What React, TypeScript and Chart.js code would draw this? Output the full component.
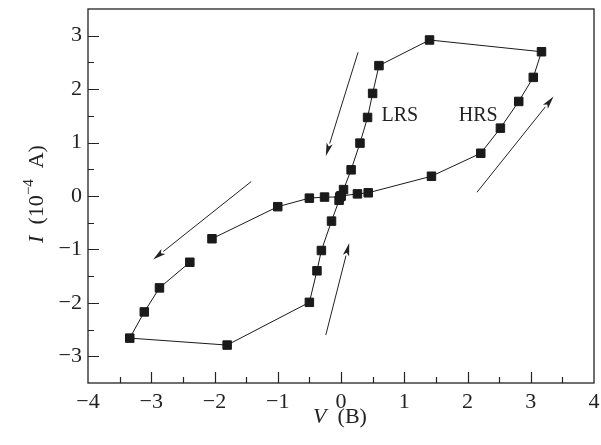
import React, { useEffect, useRef } from "react";
import { Chart, registerables } from "chart.js";
Chart.register(...registerables);

// I–V sweep (V in volts, I in 1e-4 A); null = gap in the curve
const voltage: (number | null)[] = [
  0, 0.26, 0.43, 1.43, 2.21, 2.52, 2.81, 3.04, 3.17,
  1.40, 0.60, 0.50, 0.42, 0.30, 0.16, 0.04,
  -0.02, -0.26, -0.50, -1.00, -2.04, null,
  -2.39, -2.87, -3.11, -3.34, -1.80, -0.50, -0.38, -0.31, -0.15, -0.03, 0,
];
const current: (number | null)[] = [
  0, 0.04, 0.06, 0.37, 0.80, 1.27, 1.77, 2.22, 2.70,
  2.92, 2.44, 1.92, 1.47, 0.99, 0.49, 0.12,
  -0.02, -0.02, -0.04, -0.20, -0.80, null,
  -1.24, -1.72, -2.17, -2.66, -2.79, -1.99, -1.40, -1.02, -0.47, -0.08, 0,
];

const xTicks = [-4, -3, -2, -1, 0, 1, 2, 3, 4];
const yTicks = [-3, -2, -1, 0, 1, 2, 3];

// sweep-direction arrows: tail (V, I) -> head (V, I)
const arrowTailV = [0.27, 2.15, -1.42, -0.24];
const arrowTailI = [2.69, 0.07, 0.27, -2.6];
const arrowHeadV = [-0.24, 3.36, -2.97, 0.13];
const arrowHeadI = [0.75, 1.86, -1.19, -0.88];

const stateLabels = ["LRS", "HRS"];
const stateLabelV = [0.93, 2.17];
const stateLabelI = [1.5, 1.5];

const SERIF = "'Liberation Serif', 'Times New Roman', serif";
const fmt = (v: number) => (v < 0 ? "\u2212" + Math.abs(v) : String(v));

const decor = {
  id: "decor",
  afterDatasetsDraw(chart: any) {
    const { ctx, chartArea: a, scales } = chart;
    const x = scales.x, y = scales.y;
    ctx.save();
    ctx.strokeStyle = "#222";
    ctx.fillStyle = "#222";
    ctx.lineWidth = 1.3;
    ctx.strokeRect(a.left, a.top, a.right - a.left, a.bottom - a.top);
    ctx.lineWidth = 1.2;
    ctx.beginPath();
    for (let k = -7; k <= 7; k++) {
      const v = k / 2;
      const px = Math.round(x.getPixelForValue(v)) + 0.5;
      const len = k % 2 === 0 ? 11 : 6;
      ctx.moveTo(px, a.bottom);
      ctx.lineTo(px, a.bottom - len);
    }
    for (let k = -6; k <= 6; k++) {
      const v = k / 2;
      const py = Math.round(y.getPixelForValue(v)) + 0.5;
      const len = k % 2 === 0 ? 11 : 6;
      ctx.moveTo(a.left, py);
      ctx.lineTo(a.left + len, py);
    }
    ctx.stroke();

    // arrows
    ctx.lineWidth = 1;
    for (let i = 0; i < arrowTailV.length; i++) {
      const x0 = x.getPixelForValue(arrowTailV[i]);
      const y0 = y.getPixelForValue(arrowTailI[i]);
      const x1 = x.getPixelForValue(arrowHeadV[i]);
      const y1 = y.getPixelForValue(arrowHeadI[i]);
      const ang = Math.atan2(y1 - y0, x1 - x0);
      const hl = 13, hw = 3.2;
      const bx = x1 - hl * Math.cos(ang), by = y1 - hl * Math.sin(ang);
      ctx.beginPath();
      ctx.moveTo(x0, y0);
      ctx.lineTo(bx, by);
      ctx.stroke();
      ctx.beginPath();
      ctx.moveTo(x1, y1);
      ctx.lineTo(bx + hw * Math.sin(ang), by - hw * Math.cos(ang));
      ctx.lineTo(bx + 3 * Math.cos(ang), by + 3 * Math.sin(ang));
      ctx.lineTo(bx - hw * Math.sin(ang), by + hw * Math.cos(ang));
      ctx.closePath();
      ctx.fill();
    }

    // state labels
    ctx.font = `20px ${SERIF}`;
    ctx.textAlign = "center";
    ctx.textBaseline = "middle";
    for (let i = 0; i < stateLabels.length; i++) {
      ctx.fillText(stateLabels[i], x.getPixelForValue(stateLabelV[i]), y.getPixelForValue(stateLabelI[i]));
    }

    // axis titles
    const drawPieces = (pieces: { t: string; f: string; dy: number }[], cx: number, cy: number, rot: number) => {
      ctx.save();
      ctx.translate(cx, cy);
      ctx.rotate(rot);
      ctx.textAlign = "left";
      ctx.textBaseline = "alphabetic";
      let total = 0;
      for (const p of pieces) { ctx.font = p.f; total += ctx.measureText(p.t).width; }
      let cur = -total / 2;
      for (const p of pieces) {
        ctx.font = p.f;
        ctx.fillText(p.t, cur, 7 + p.dy);
        cur += ctx.measureText(p.t).width;
      }
      ctx.restore();
    };
    drawPieces(
      [
        { t: "V", f: `italic 22px ${SERIF}`, dy: 0 },
        { t: "\u2002(B)", f: `22px ${SERIF}`, dy: 0 },
      ],
      340, 416, 0
    );
    drawPieces(
      [
        { t: "I", f: `italic 22px ${SERIF}`, dy: 0 },
        { t: "\u2002(10", f: `22px ${SERIF}`, dy: 0 },
        { t: "\u22124", f: `15px ${SERIF}`, dy: -10 },
        { t: "\u2002A)", f: `22px ${SERIF}`, dy: 0 },
      ],
      36, 194, -Math.PI / 2
    );
    ctx.restore();
  },
};

export default function App() {
  const ref = useRef<HTMLCanvasElement>(null);
  useEffect(() => {
    let chart: Chart | null = null;
    let cancelled = false;
    const fonts = [
      document.fonts.load("22px 'Liberation Serif'"),
      document.fonts.load("italic 22px 'Liberation Serif'"),
    ];
    Promise.all(fonts).catch(() => null).then(() => {
      if (cancelled || !ref.current) return;
      const points = voltage.map((v, i) => ({ x: v, y: current[i] }));
      chart = new Chart(ref.current, {
        type: "scatter",
        data: {
          datasets: [
            {
              data: points as any,
              showLine: true,
              spanGaps: false,
              borderColor: "#1a1a1a",
              borderWidth: 1,
              pointStyle: "rect",
              pointRadius: 6,
              pointBorderWidth: 1,
              pointBackgroundColor: "#1a1a1a",
              pointBorderColor: "#1a1a1a",
            },
          ],
        },
        options: {
          responsive: false,
          animation: false,
          layout: { padding: { left: 0, right: 7, top: 9, bottom: 0 } },
          plugins: { legend: { display: false }, tooltip: { enabled: false } },
          scales: {
            x: {
              type: "linear",
              min: -4,
              max: 4,
              afterBuildTicks: (s: any) => { s.ticks = xTicks.map((v) => ({ value: v })); },
              afterFit: (s: any) => { s.height = 62; s.paddingLeft = 0; s.paddingRight = 0; },
              grid: { display: false, drawTicks: false },
              border: { display: false },
              ticks: {
                padding: 6,
                color: "#222",
                font: { family: SERIF, size: 22 },
                maxRotation: 0,
                callback: (v: any) => fmt(Number(v)),
              },
            },
            y: {
              type: "linear",
              min: -3.5,
              max: 3.5,
              afterBuildTicks: (s: any) => { s.ticks = yTicks.map((v) => ({ value: v })); },
              afterFit: (s: any) => { s.width = 88; s.paddingTop = 0; s.paddingBottom = 0; },
              grid: { display: false, drawTicks: false },
              border: { display: false },
              ticks: {
                padding: 6,
                color: "#222",
                font: { family: SERIF, size: 22 },
                callback: (v: any) => fmt(Number(v)),
              },
            },
          },
        },
        plugins: [decor],
      });
    });
    return () => {
      cancelled = true;
      if (chart) chart.destroy();
    };
  }, []);
  return (
    <div style={{ position: "fixed", left: 0, top: 0, width: 601, height: 445, background: "#fff" }}>
      <canvas ref={ref} width={601} height={445} />
    </div>
  );
}
